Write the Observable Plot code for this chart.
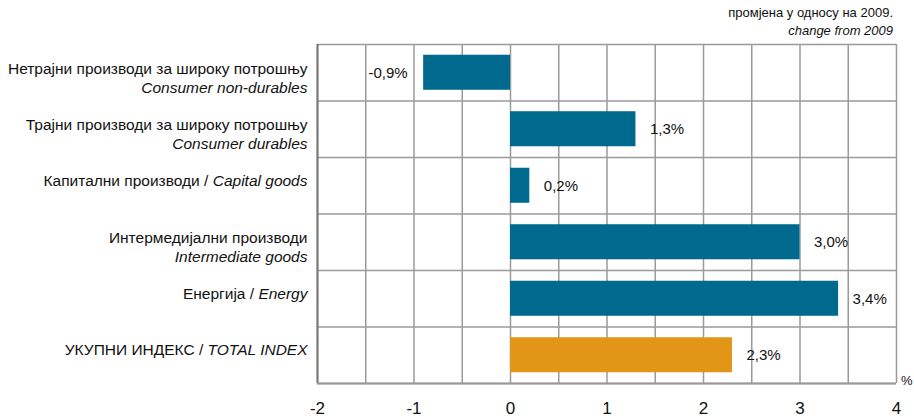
<!DOCTYPE html>
<html><head><meta charset="utf-8">
<script src="https://cdn.jsdelivr.net/npm/d3@7"></script>
<script src="https://cdn.jsdelivr.net/npm/@observablehq/plot@0.6"></script>
<style>
body{margin:0;background:#fff;font-family:"Liberation Sans",Arial,sans-serif;}
#wrap{position:relative;width:914px;height:419px;}
#title{position:absolute;right:21px;top:4px;text-align:right;font-size:13px;line-height:18px;color:#111;}
#unit{position:absolute;left:901px;top:373px;font-size:13px;color:#111;}
</style></head><body>
<div id="wrap"><div id="title">промјена у односу на 2009.<br><i>change from 2009</i></div><div id="unit">%</div></div>
<script>
const categoriesSr = ["Нетрајни производи за широку потрошњу", "Трајни производи за широку потрошњу", "Капитални производи", "Интермедијални производи", "Енергија", "УКУПНИ ИНДЕКС"];
const categoriesEn = ["Consumer non-durables", "Consumer durables", "Capital goods", "Intermediate goods", "Energy", "TOTAL INDEX"];
const twoLine = [true, true, false, true, false, false];
const values = [-0.9, 1.3, 0.2, 3.0, 3.4, 2.3];
const valueLabels = ["-0,9%", "1,3%", "0,2%", "3,0%", "3,4%", "2,3%"];
const xTicks = [-2, -1, 0, 1, 2, 3, 4];
const xGrid = [-2, -1.5, -1, -0.5, 0, 0.5, 1, 1.5, 2, 2.5, 3, 3.5, 4];
const colors = ["#006a8e", "#006a8e", "#006a8e", "#006a8e", "#006a8e", "#e29617"];

const rows = values.map((v, i) => ({i, v, label: valueLabels[i], color: colors[i]}));
const yBounds = d3.range(-0.5, values.length, 1);

const chart = Plot.plot({
  width: 914, height: 419,
  marginTop: 44, marginBottom: 36, marginLeft: 317, marginRight: 18,
  style: {fontFamily: '"Liberation Sans",Arial,sans-serif', fontSize: "15.5px", color: "#111"},
  x: {domain: [-2, 4], ticks: xTicks, tickSize: 0, tickPadding: 18, tickFormat: d => String(d).replace("−","-"), label: null},
  y: {domain: [values.length - 0.5, -0.5], ticks: d3.range(values.length), tickSize: 0, tickPadding: 10, tickFormat: i => categoriesSr[i], label: null},
  marks: [
    Plot.ruleX(xGrid, {stroke: "#9a9a9a", strokeWidth: 1.5, strokeOpacity: 1}),
    Plot.ruleY(yBounds, {stroke: "#9a9a9a", strokeWidth: 1.5, strokeOpacity: 1}),
    Plot.rectX(rows, {x1: 0, x2: "v", y1: d => d.i - 0.31, y2: d => d.i + 0.31, fill: "color"}),
    Plot.text(rows.filter(d => d.v < 0), {x: "v", y: "i", text: "label", textAnchor: "end", dx: -16, fontSize: 15, fill: "#111"}),
    Plot.text(rows.filter(d => d.v >= 0), {x: "v", y: "i", text: "label", textAnchor: "start", dx: 14, fontSize: 15, fill: "#111"}),
    Plot.ruleX([-2], {stroke: "#777", strokeWidth: 2}),
    Plot.ruleY([values.length - 0.5], {stroke: "#999", strokeWidth: 2})
  ]
});
document.getElementById("wrap").prepend(chart);
d3.select(chart).selectAll('g[aria-label="x-axis tick label"] text').style("font-size", "17px");
// rebuild y labels with mixed italic parts
d3.select(chart).selectAll('g[aria-label="y-axis tick label"] text').each(function(i) {
  const t = d3.select(this);
  const idx = +i;
  t.text(null).attr("y", null);
  if (twoLine[idx]) {
    t.append("tspan").attr("x", 0).attr("dy", "0.05em").text(categoriesSr[idx]);
    t.append("tspan").attr("x", 0).attr("dy", "1.25em").style("font-style", "italic").text(categoriesEn[idx]);
  } else {
    t.append("tspan").text(categoriesSr[idx] + " / ");
    t.append("tspan").style("font-style", "italic").text(categoriesEn[idx]);
  }
});
</script>
</body></html>
